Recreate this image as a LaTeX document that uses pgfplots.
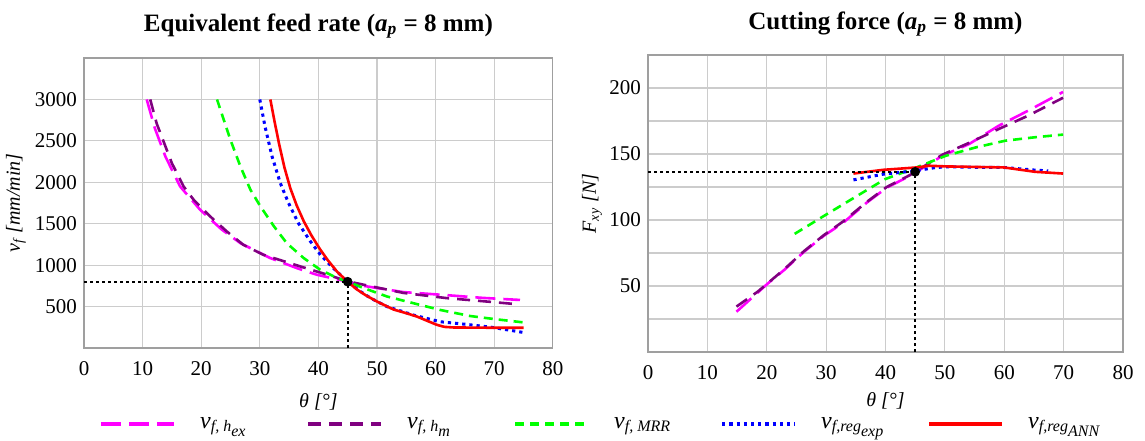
\documentclass[border=0pt]{standalone}
\usepackage{fontspec}
\setmainfont{Liberation Serif}
\usepackage{amsmath}
\usepackage{pgfplots}
\pgfplotsset{compat=1.18}

\definecolor{cHex}{HTML}{FF00FF}
\definecolor{cHm}{HTML}{800080}
\definecolor{cMrr}{HTML}{00FF00}
\definecolor{cExp}{HTML}{0000FF}
\definecolor{cAnn}{HTML}{FF0000}

\newcommand{\sub}[1]{\scriptstyle\textit{#1}}

\pgfplotsset{
  base/.style={
    scale only axis,
    anchor=south west,
    xmin=0, xmax=80,
    xtick={0,10,...,80},
    grid=both,
    major grid style={gray!40, line width=0.6pt},
    minor grid style={gray!40, line width=0.6pt},
    axis line style={gray!75, line width=0.6pt},
    major tick length=0pt, minor tick length=0pt,
    /pgf/number format/assume math mode=true,
    /pgf/number format/1000 sep={},
    ticklabel style={font=\fontsize{10.5}{12}\selectfont},
    xticklabel style={yshift=-3pt},
    every axis title shift=0pt,
    title style={at={(axis description cs:0.5,1)}, anchor=center,
      font=\fontsize{12.5}{14}\selectfont\bfseries},
    label style={font=\fontsize{11.5}{13}\selectfont},
    xlabel={\textit{θ [°]}},
  },
  sHex/.style={cHex, line width=1.3pt, dash pattern=on 10pt off 4pt},
  sHm/.style={cHm, line width=1.3pt, dash pattern=on 6.5pt off 4pt},
  sMrr/.style={cMrr, line width=1.3pt, dash pattern=on 4.5pt off 3pt},
  sExp/.style={cExp, line width=1.5pt, dash pattern=on 1.6pt off 2pt},
  sAnn/.style={cAnn, line width=1.3pt},
  guide/.style={black, line width=0.8pt, dash pattern=on 1.5pt off 1.5pt},
}

\begin{document}
\begin{tikzpicture}
\useasboundingbox (0,0) rectangle (572.5pt,220pt);

% left: equivalent feed rate
\begin{axis}[base,
  at={(42pt,46pt)}, width=234.4pt, height=145pt,
  ymin=0, ymax=3500,
  ytick={500,1000,...,3000},
  title={Equivalent feed rate (\textit{a}$_{\textit{p}}$ = 8 mm)},
  title style={yshift=16pt},
  ylabel={$\textit{v}_{\textit{f}}$ \textit{[mm/min]}},
  every axis y label/.style={at={(axis description cs:-0.145,0.5)}, rotate=90, anchor=center},
  every axis x label/.style={at={(axis description cs:0.5,-0.185)}, anchor=center},
]
\addplot[sHex] coordinates {(10.7,3000) (12.1,2650) (13.9,2310) (16.4,1950) (19.8,1670) (23.5,1430) (26.7,1265) (31.8,1085) (36.3,965) (39.7,885) (42.5,840) (45,800) (47.7,750) (51.7,705) (54.5,675) (58.5,655) (63,632) (68,605) (74.4,580)};
\addplot[sHm] coordinates {(11.3,3000) (12.4,2710) (15,2230) (17,1950) (18.7,1790) (21.5,1590) (24.4,1405) (27.2,1245) (30.6,1125) (36.9,985) (41.5,885) (45,805) (47.7,764) (54.5,665) (61.9,602) (68.7,561) (73.2,533)};
\addplot[sMrr] coordinates {(22.7,3000) (25,2510) (26.7,2190) (28.4,1910) (30.1,1710) (32.4,1470) (34.6,1265) (37.5,1085) (40.3,945) (43.2,845) (45,800) (47.7,724) (51.7,622) (56.2,541) (60.8,459) (65.9,386) (70.4,346) (75,309)};
\addplot[sExp] coordinates {(30,3000) (30.9,2670) (32.1,2310) (33.5,1990) (34.9,1750) (36.6,1505) (38.6,1290) (40.4,1120) (42.6,960) (45,800) (47,690) (48.9,602) (51.7,500) (56.2,398) (60.8,317) (65.3,285) (69.8,248) (75,187)};
\addplot[sAnn] coordinates {(31.8,3000) (32.5,2740) (33.3,2460) (34.2,2180) (35.2,1930) (36.3,1720) (37.5,1530) (38.8,1360) (40.2,1200) (41.6,1060) (43.2,920) (45,800) (46.5,710) (48,640) (50,561) (52.8,465) (55,420) (56.8,380) (58.5,330) (60.2,280) (61.5,255) (63,248) (68.7,245) (75,245)};
\addplot[guide] coordinates {(0,800) (45,800)};
\addplot[guide] coordinates {(45,0) (45,800)};
\addplot[only marks, mark=*, mark size=2.2pt, black] coordinates {(45,800)};
\end{axis}

% right: cutting force
\begin{axis}[base,
  at={(324pt,44pt)}, width=237.5pt, height=148.5pt,
  ymin=0, ymax=225,
  ytick={50,100,150,200},
  minor ytick={25,75,125,175},
  title={Cutting force (\textit{a}$_{\textit{p}}$ = 8 mm)},
  title style={yshift=15.5pt},
  ylabel={$\textit{F}_{\textit{xy}}$ \textit{[N]}},
  every axis y label/.style={at={(axis description cs:-0.118,0.5)}, rotate=90, anchor=center},
  every axis x label/.style={at={(axis description cs:0.5,-0.165)}, anchor=center},
  legend columns=5,
  legend style={at={(axis description cs:-0.07,-0.2424)}, anchor=center,
    draw=none, fill=none, font=\fontsize{12}{14}\selectfont,
    /tikz/every odd column/.append style={column sep=10pt},
    /tikz/every even column/.append style={column sep=2pt}},
  legend cell align=left,
  legend image code/.code={\draw[#1, line width=2pt] (0pt,0pt) -- (36.5pt,0pt);},
]
\addplot[sHex] coordinates {(14.9,30.5) (20.2,52) (22.9,62) (26.3,76) (29.6,88) (32.9,98) (36.8,113) (40.2,124.5) (44.1,133.4) (49.6,148.7) (54.1,157.6) (59.1,171.5) (64.1,183) (69.9,197)};
\addplot[sHm] coordinates {(14.9,34.4) (18.5,45.8) (22.9,62.5) (26.3,76.5) (29.6,88.5) (32.9,99) (36.8,113.5) (40.2,125) (44.1,134) (49.6,149.5) (54.1,158.5) (59.1,169) (64.1,179.2) (69.9,192.6)};
\addplot[sMrr] coordinates {(24.7,89.5) (29.6,103) (35.2,118.2) (39.9,130.9) (45.2,139.8) (50.2,148.7) (55.2,155) (60.2,160.1) (65.2,162.7) (69.9,164.7)};
\addplot[sExp] coordinates {(34.6,130.4) (39.6,134.7) (44.9,137.2) (48.5,139.8) (50.7,140.3) (56.3,139.8) (59.9,139.8) (65.2,137.8) (67.4,137.2)};
\addplot[sAnn] coordinates {(34.6,135.2) (39.6,138) (45.2,139.8) (47.4,141.1) (50.2,140.6) (60,139.8) (65.2,136.5) (69.9,135.2)};
\addplot[guide, forget plot] coordinates {(0,136.5) (45,136.5)};
\addplot[guide, forget plot] coordinates {(45,0) (45,136.5)};
\addplot[only marks, mark=*, mark size=2.2pt, black, forget plot] coordinates {(45,136.5)};
\legend{\makebox[49pt][l]{$\textit{v}_{\sub{f, h}_{\sub{ex}}}$},
        \makebox[49pt][l]{$\textit{v}_{\sub{f, h}_{\sub{m}}}$},
        \makebox[49pt][l]{$\textit{v}_{\sub{f, MRR}}$},
        \makebox[49pt][l]{$\textit{v}_{\sub{f,reg}_{\sub{exp}}}$},
        \makebox[49pt][l]{$\textit{v}_{\sub{f,reg}_{\sub{ANN}}}$}}
\end{axis}
\end{tikzpicture}
\end{document}
